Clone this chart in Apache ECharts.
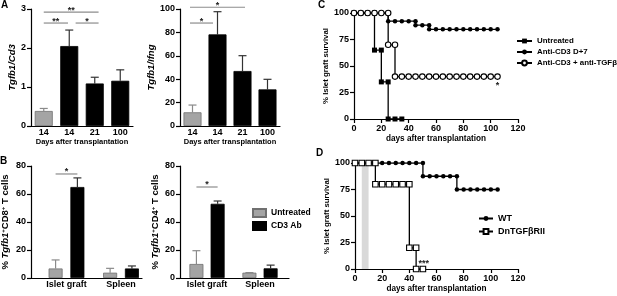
<!DOCTYPE html>
<html lang="en">
<head>
<meta charset="UTF-8">
<title>Tgfb1 and islet graft survival</title>
<script src="https://cdn.jsdelivr.net/npm/echarts@6/dist/echarts.min.js"></script>
<style>
    body { margin: 0; background: #fff; }
    #main { width: 617px; height: 296px; }
</style>
</head>
<body>
<div id="main"></div>
<script>
    // ---- panel A: Tgfb1 ratios by day ----
    var dayLabels = ['14', '14', '21', '100'];
    var dayGroups = ['untreated', 'cd3', 'cd3', 'cd3'];
    var cd3Ratio = [0.385, 2.05, 1.09, 1.16];
    var cd3RatioTop = [0.45, 2.46, 1.25, 1.44];
    var ifngRatio = [11.7, 78.3, 47, 31.3];
    var ifngRatioTop = [17.9, 97.7, 60.1, 39.9];
    // significance brackets: [from, to, height] (bar index + 1)
    var cd3Sig = [[1, 3.15, 2.92], [1, 1.95, 2.64], [2.25, 3.15, 2.64]];
    var cd3SigText = ['**', '**', '*'];
    var ifngSig = [[0.9, 3.1, 101.5], [0.9, 1.82, 88]];
    var ifngSigText = ['*', '*'];

    // ---- panel B: % Tgfb1+ T cells ----
    var tissues = ['Islet graft', 'Spleen'];
    var cd8Untreated = [6.8, 3.8];
    var cd8UntreatedTop = [12.9, 6.9];
    var cd8Cd3 = [65, 6.8];
    var cd8Cd3Top = [71.5, 8.6];
    var cd4Untreated = [10, 3.8];
    var cd4UntreatedTop = [19.5, 3.8];
    var cd4Cd3 = [53, 6.9];
    var cd4Cd3Top = [55, 9.2];
    var cd8Sig = [[0.8, 1.2, 74.3]];
    var cd4Sig = [[0.8, 1.2, 65]];

    // ---- panel C: graft survival ----
    var untreatedDays = [0, 5, 10, 15, 15, 20, 20, 25, 25, 30, 35];
    var untreatedSurv = [100, 100, 100, 100, 65, 65, 35, 35, 0, 0, 0];
    var antiCd3Days = [0, 5, 10, 15, 20, 25, 25, 30, 35, 40, 45, 45, 50, 55, 55, 60, 65, 70, 75, 80, 85, 90, 95, 100, 105];
    var antiCd3Surv = [100, 100, 100, 100, 100, 100, 92.3, 92.3, 92.3, 92.3, 92.3, 88.5, 88.5, 88.5,
        84.6, 84.6, 84.6, 84.6, 84.6, 84.6, 84.6, 84.6, 84.6, 84.6, 84.6];
    var antiTgfDays = [0, 5, 10, 15, 20, 25, 25, 30, 30, 35, 40, 45, 50, 55, 60, 65, 70, 75, 80, 85, 90, 95, 100, 105];
    var antiTgfSurv = [100, 100, 100, 100, 100, 100, 70, 70, 40, 40, 40, 40, 40, 40, 40, 40, 40, 40, 40, 40, 40, 40, 40, 40];
    var cStar = [[105, 32]];

    // ---- panel D: WT vs DnTGFbRII ----
    var wtDays = [0, 5, 10, 15, 20, 25, 30, 35, 40, 45, 50, 50, 55, 60, 65, 70, 75, 75, 80, 85, 90, 95, 100, 105];
    var wtSurv = [100, 100, 100, 100, 100, 100, 100, 100, 100, 100, 100, 87.5, 87.5, 87.5, 87.5, 87.5, 87.5,
        75, 75, 75, 75, 75, 75, 75];
    var dnDays = [0, 5, 10, 15, 15, 20, 25, 30, 35, 40, 40, 45, 45, 50];
    var dnSurv = [100, 100, 100, 100, 80, 80, 80, 80, 80, 80, 20, 20, 0, 0];
    var dStar = [[50.6, 5]];
    var treatWindow = [5, 10];

    var FONT = '"Liberation Sans", Arial, sans-serif';
    var GRAY = '#a4a4a4';
    var colorOf = {untreated: GRAY, cd3: '#000'};
    var errColorOf = {untreated: '#8a8a8a', cd3: '#333'};

    function zip(xs, ys) {
        return xs.map(function (x, i) { return [x, ys[i]]; });
    }

    function t(size, extra) {
        var s = {fontFamily: FONT, fontWeight: 'bold', fontSize: size, color: '#000'};
        for (var k in extra) s[k] = extra[k];
        return s;
    }

    function catAxis(idx, labels, min, max, name, nameSize, nameGap) {
        return {
            type: 'value', gridIndex: idx, min: min, max: max,
            name: name, nameLocation: 'middle', nameGap: nameGap,
            nameTextStyle: t(nameSize),
            axisLine: {lineStyle: {color: '#000', width: 1.2}},
            axisTick: {show: false},
            splitLine: {show: false},
            axisLabel: Object.assign(t(9), {
                margin: 2,
                customValues: labels.map(function (l, i) { return i + 1; }),
                formatter: function (v) {
                    var i = Math.round(v) - 1;
                    return Math.abs(v - Math.round(v)) < 1e-6 && labels[i] ? labels[i] : '';
                }
            })
        };
    }

    function numAxis(idx, min, max, step, name, nameSize, nameGap, rich, pos) {
        return {
            type: 'value', gridIndex: idx, min: min, max: max, interval: step, position: pos,
            name: name, nameLocation: 'middle', nameGap: nameGap,
            nameTextStyle: t(nameSize, rich ? {rich: rich} : {fontStyle: 'italic'}),
            axisLine: {show: true, lineStyle: {color: '#000', width: 1.2}},
            axisTick: {show: true, length: 4, lineStyle: {color: '#000', width: 1.2}},
            splitLine: {show: false},
            axisLabel: Object.assign(t(9), {margin: 5})
        };
    }

    function errorSeries(idx, xs, means, tops, colors) {
        var rows = xs.map(function (x, i) { return [x, means[i], tops[i]]; });
        return {
            type: 'custom', xAxisIndex: idx, yAxisIndex: idx, z: 1, silent: true,
            data: rows,
            renderItem: function (params, api) {
                var p0 = api.coord([api.value(0), api.value(1)]);
                var p1 = api.coord([api.value(0), api.value(2)]);
                var c = colors[params.dataIndex];
                return {type: 'group', children: [
                    {type: 'line', shape: {x1: p0[0], y1: p0[1], x2: p1[0], y2: p1[1]}, style: {stroke: c, lineWidth: 1.2}},
                    {type: 'line', shape: {x1: p1[0] - 4, y1: p1[1], x2: p1[0] + 4, y2: p1[1]}, style: {stroke: c, lineWidth: 1.2}}
                ]};
            }
        };
    }

    function bracketSeries(idx, rows, labels) {
        return {
            type: 'custom', xAxisIndex: idx, yAxisIndex: idx, z: 5, silent: true, clip: false,
            data: rows,
            renderItem: function (params, api) {
                var a = api.coord([api.value(0), api.value(2)]);
                var b = api.coord([api.value(1), api.value(2)]);
                return {type: 'group', children: [
                    {type: 'line', shape: {x1: a[0], y1: a[1], x2: b[0], y2: b[1]}, style: {stroke: '#8c8c8c', lineWidth: 1.2}},
                    {type: 'text', style: {text: labels[params.dataIndex], x: (a[0] + b[0]) / 2, y: a[1] - 2,
                        align: 'center', verticalAlign: 'middle', fill: '#222',
                        fontSize: 9, fontWeight: 'bold', fontFamily: FONT}}
                ]};
            }
        };
    }

    function starSeries(idx, rows, label) {
        return {
            type: 'custom', xAxisIndex: idx, yAxisIndex: idx, z: 5, silent: true, clip: false,
            data: rows,
            renderItem: function (params, api) {
                var p = api.coord([api.value(0), api.value(1)]);
                return {type: 'text', style: {text: label, x: p[0], y: p[1], align: 'center', verticalAlign: 'middle',
                    fill: '#222', fontSize: 9, fontWeight: 'bold', fontFamily: FONT}};
            }
        };
    }

    function groupBars(idx, name, xs, vals, color) {
        return {
            type: 'bar', name: name, xAxisIndex: idx, yAxisIndex: idx, barWidth: 14, barGap: '-100%', z: 2,
            itemStyle: {color: color, borderColor: color === GRAY ? '#707070' : '#000', borderWidth: 0.8},
            data: zip(xs, vals)
        };
    }

    function kmSeries(idx, name, days, surv, symbol, size, filled) {
        return {
            type: 'line', name: name, xAxisIndex: idx, yAxisIndex: idx,
            data: zip(days, surv), symbol: symbol, symbolSize: size, showAllSymbol: true,
            lineStyle: {color: '#000', width: 1.3},
            itemStyle: {color: filled ? '#000' : '#fff', borderColor: '#000', borderWidth: filled ? 0 : 1.1},
            z: filled ? 3 : 4
        };
    }

    var dayX = dayLabels.map(function (l, i) { return i + 1; });
    var dayColors = dayGroups.map(function (g) { return colorOf[g]; });
    var dayErrColors = dayGroups.map(function (g) { return errColorOf[g]; });
    var tissueX = tissues.map(function (l, i) { return i + 1; });
    var tisLeft = tissueX.map(function (x) { return x - 0.2; });
    var tisRight = tissueX.map(function (x) { return x + 0.2; });

    var richCD8 = {i: {fontStyle: 'italic', fontWeight: 'bold', fontSize: 9.5, fontFamily: FONT},
        s: {fontSize: 6, fontWeight: 'bold', fontFamily: FONT, verticalAlign: 'top'}};

    var myChart = echarts.init(document.getElementById('main'));

    var option = {
        animation: false,
        backgroundColor: '#fff',
        grid: [
            {left: 31, top: 9, width: 102, height: 117, outerBoundsMode: 'none'},
            {left: 180, top: 9, width: 100, height: 117, outerBoundsMode: 'none'},
            {left: 31, top: 166, width: 111, height: 112, outerBoundsMode: 'none'},
            {left: 180, top: 166, width: 109, height: 112, outerBoundsMode: 'none'},
            {left: 354, top: 13, width: 164, height: 106, outerBoundsMode: 'none'},
            {left: 355, top: 163, width: 163, height: 106, outerBoundsMode: 'none'}
        ],
        xAxis: [
            catAxis(0, dayLabels, 0.5, 4.5, 'Days after transplantation', 7.5, 11),
            catAxis(1, dayLabels, 0.5, 4.5, 'Days after transplantation', 7.5, 11),
            catAxis(2, tissues, 0.349, 2.385, '', 9, 10),
            catAxis(3, tissues, 0.49, 2.547, '', 9, 10),
            Object.assign(numAxis(4, 0, 120, 20, 'days after transplantation', 8.2, 16, null, 'bottom'),
                {nameTextStyle: t(8.2)}),
            Object.assign(numAxis(5, 0, 120, 20, 'days after transplantation', 8.2, 16, null, 'bottom'),
                {nameTextStyle: t(8.2)})
        ],
        yAxis: [
            numAxis(0, 0, 3, 1, 'Tgfb1/Cd3', 9.5, 12.5),
            numAxis(1, 0, 100, 20, 'Tgfb1/Ifng', 9.5, 17.5),
            numAxis(2, 0, 80, 20, '% {i|Tgfb1}{s|+}CD8{s|+} T cells', 9.5, 20.5, richCD8),
            numAxis(3, 0, 80, 20, '% {i|Tgfb1}{s|+}CD4{s|+} T cells', 9.5, 19.5, richCD8),
            Object.assign(numAxis(4, 0, 100, 25, '% Islet graft survival', 7.8, 16.5), {nameTextStyle: t(7.8)}),
            Object.assign(numAxis(5, 0, 100, 25, '% Islet graft survival', 7.8, 16.5), {nameTextStyle: t(7.8)})
        ],
        legend: [
            {
                data: ['Untreated (B)', 'CD3 Ab'], left: 247, top: 203, orient: 'vertical',
                icon: 'rect', itemWidth: 13, itemHeight: 8, itemGap: 3, selectedMode: false,
                formatter: function (n) { return n.replace(' (B)', ''); },
                textStyle: t(8.5)
            },
            {
                data: ['Untreated', 'Anti-CD3 D+7', 'Anti-CD3 + anti-TGFβ'], left: 511, top: 32, orient: 'vertical',
                itemWidth: 15, itemHeight: 6, itemGap: 3, selectedMode: false,
                textStyle: t(7.9)
            },
            {
                data: ['WT', 'DnTGFβRII'], left: 473, top: 209, orient: 'vertical',
                itemWidth: 14, itemHeight: 6, itemGap: 4, selectedMode: false,
                textStyle: t(9)
            }
        ],
        graphic: [
            {type: 'text', left: 1, top: 0, style: {text: 'A', font: 'bold 10px ' + FONT, fill: '#000'}},
            {type: 'text', left: 0, top: 156, style: {text: 'B', font: 'bold 10px ' + FONT, fill: '#000'}},
            {type: 'text', left: 318, top: 0, style: {text: 'C', font: 'bold 10px ' + FONT, fill: '#000'}},
            {type: 'text', left: 316, top: 148, style: {text: 'D', font: 'bold 10px ' + FONT, fill: '#000'}}
        ],
        series: [
            // C first so its legend icons are the line ones
            kmSeries(4, 'Untreated', untreatedDays, untreatedSurv, 'rect', 5, true),
            kmSeries(4, 'Anti-CD3 D+7', antiCd3Days, antiCd3Surv, 'circle', 4.5, true),
            kmSeries(4, 'Anti-CD3 + anti-TGFβ', antiTgfDays, antiTgfSurv, 'circle', 5.5, false),
            starSeries(4, cStar, '*'),

            Object.assign(kmSeries(5, 'WT', wtDays, wtSurv, 'circle', 4.5, true), {
                markArea: {silent: true, itemStyle: {color: '#d9d9d9'},
                    data: [[{xAxis: treatWindow[0], yAxis: 0}, {xAxis: treatWindow[1], yAxis: 100}]]}
            }),
            kmSeries(5, 'DnTGFβRII', dnDays, dnSurv, 'rect', 5.5, false),
            starSeries(5, dStar, '***'),

            // A
            {
                type: 'bar', xAxisIndex: 0, yAxisIndex: 0, barWidth: 18, z: 2,
                data: dayX.map(function (x, i) {
                    return {value: [x, cd3Ratio[i]], itemStyle: {color: dayColors[i],
                        borderColor: dayGroups[i] === 'untreated' ? '#707070' : '#000', borderWidth: 0.8}};
                })
            },
            errorSeries(0, dayX, cd3Ratio, cd3RatioTop, dayErrColors),
            bracketSeries(0, cd3Sig, cd3SigText),
            {
                type: 'bar', xAxisIndex: 1, yAxisIndex: 1, barWidth: 18, z: 2,
                data: dayX.map(function (x, i) {
                    return {value: [x, ifngRatio[i]], itemStyle: {color: dayColors[i],
                        borderColor: dayGroups[i] === 'untreated' ? '#707070' : '#000', borderWidth: 0.8}};
                })
            },
            errorSeries(1, dayX, ifngRatio, ifngRatioTop, dayErrColors),
            bracketSeries(1, ifngSig, ifngSigText),

            // B
            groupBars(2, 'Untreated (B)', tisLeft, cd8Untreated, GRAY),
            groupBars(2, 'CD3 Ab', tisRight, cd8Cd3, '#000'),
            errorSeries(2, tisLeft, cd8Untreated, cd8UntreatedTop, ['#8a8a8a', '#8a8a8a']),
            errorSeries(2, tisRight, cd8Cd3, cd8Cd3Top, ['#333', '#333']),
            bracketSeries(2, cd8Sig, ['*']),
            groupBars(3, 'Untreated (B)', tisLeft, cd4Untreated, GRAY),
            groupBars(3, 'CD3 Ab', tisRight, cd4Cd3, '#000'),
            errorSeries(3, tisLeft, cd4Untreated, cd4UntreatedTop, ['#8a8a8a', '#8a8a8a']),
            errorSeries(3, tisRight, cd4Cd3, cd4Cd3Top, ['#333', '#333']),
            bracketSeries(3, cd4Sig, ['*'])
        ]
    };

    myChart.setOption(option);
</script>
</body>
</html>
